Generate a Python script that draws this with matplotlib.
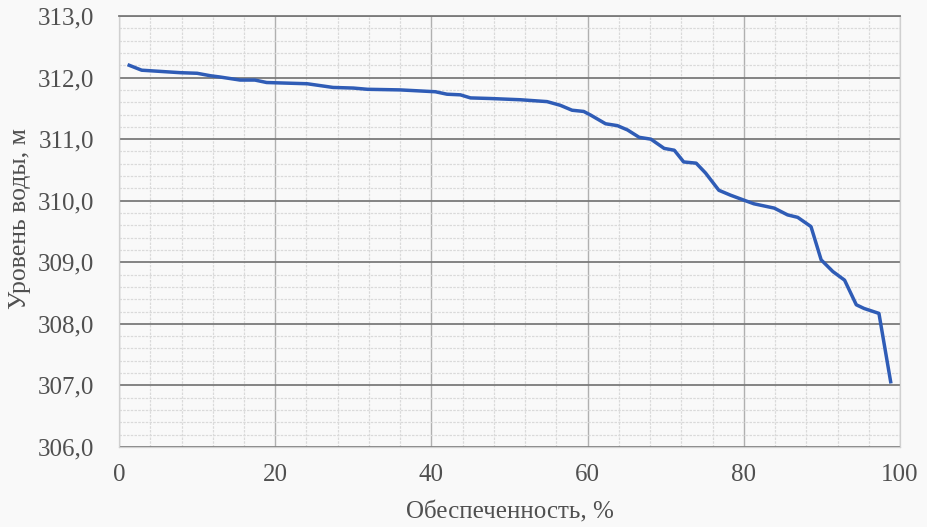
import numpy as np
import matplotlib
matplotlib.use("Agg")
import matplotlib.pyplot as plt
from matplotlib.ticker import MultipleLocator, FuncFormatter

# probability of exceedance, %
supply = [1.3, 2.9, 7.8, 10.0, 11.7, 12.9, 15.5, 17.4, 18.9, 24.1, 27.4, 30.0,
          31.8, 36.0, 40.5, 42.0, 43.7, 45.0, 47.6, 51.4, 54.8, 56.5, 58.0,
          59.5, 60.4, 62.3, 63.8, 65.1, 66.6, 68.1, 69.8, 71.1, 72.3, 73.9,
          75.1, 76.8, 78.3, 80.0, 81.3, 83.9, 85.6, 86.9, 88.6, 89.9, 91.4,
          92.9, 94.4, 95.4, 97.3, 98.8]
# water level, m
level = [312.20, 312.12, 312.08, 312.07, 312.03, 312.01, 311.96, 311.96, 311.92,
         311.90, 311.84, 311.83, 311.81, 311.80, 311.77, 311.73, 311.72, 311.67,
         311.66, 311.64, 311.61, 311.55, 311.47, 311.45, 311.39, 311.25, 311.22,
         311.15, 311.03, 311.00, 310.85, 310.82, 310.63, 310.61, 310.45, 310.17,
         310.09, 310.01, 309.95, 309.88, 309.77, 309.73, 309.58, 309.04, 308.85,
         308.71, 308.31, 308.25, 308.17, 307.06]

plt.rcParams['font.family'] = ['Liberation Serif', 'DejaVu Serif']
txt = '#505050'
bg = '#f9f9f9'

fig = plt.figure(figsize=(9.27, 5.27), dpi=100, facecolor=bg)
ax = fig.add_axes([0.1284, 0.1518, 0.8425, 0.8178], facecolor=bg)

ax.plot(supply, level, color='#2f5cb6', lw=2.5, zorder=3)

ax.set_xlim(0, 100)
ax.set_ylim(306, 313)
ax.xaxis.set_major_locator(MultipleLocator(20))
ax.xaxis.set_minor_locator(MultipleLocator(4))
ax.yaxis.set_major_locator(MultipleLocator(1))
ax.yaxis.set_minor_locator(MultipleLocator(0.2))
ax.yaxis.set_major_formatter(FuncFormatter(lambda v, p: f'{v:.1f}'.replace('.', ',')))

ax.grid(which='minor', color='#dadada', lw=0.9, ls=(0, (2, 1)))
ax.grid(which='major', axis='x', color='#b0b0b0', lw=1.0)
ax.grid(which='major', axis='y', color='#7a7a7a', lw=1.3)
ax.set_axisbelow(True)

for s in ['left', 'bottom', 'right']:
    ax.spines[s].set_color('#d0d0d0')
    ax.spines[s].set_linewidth(0.9)
ax.spines['top'].set_color('#7a7a7a')
ax.spines['top'].set_linewidth(1.3)

ax.tick_params(which='both', length=0)
ax.tick_params(axis='y', pad=18, labelsize=18, labelcolor=txt)
ax.tick_params(axis='x', pad=12, labelsize=18, labelcolor=txt)

ax.set_xlabel('Обеспеченность, %', fontsize=18, color=txt, va='center')
ax.set_ylabel('Уровень воды, м', fontsize=18.5, color=txt, va='center')
ax.xaxis.set_label_coords(0.5006, -0.151)
ax.yaxis.set_label_coords(-0.1268, 0.529)

fig.savefig('out.png', dpi=100, facecolor=bg)
